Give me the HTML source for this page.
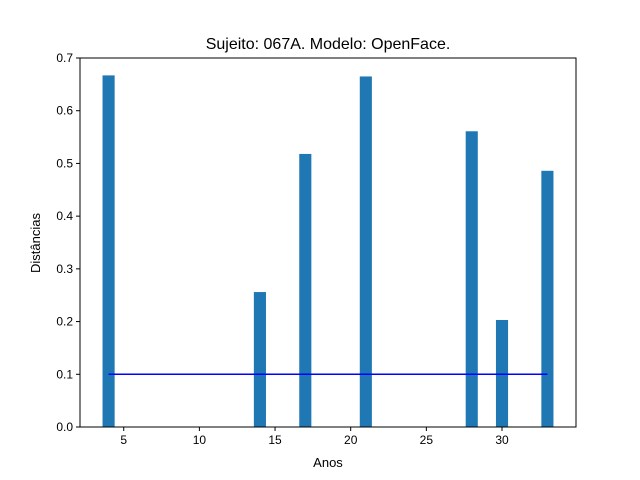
<!DOCTYPE html>
<html><head><meta charset="utf-8"><style>body{margin:0;background:#fff}svg{display:block;font-family:"Liberation Sans","DejaVu Sans",sans-serif}</style></head>
<body>
<svg id="chart" width="640" height="480">
<rect width="640" height="480" fill="#fff"/>
<text x="328" y="49" font-size="16" text-anchor="middle">Sujeito: 067A. Modelo: OpenFace.</text>
<text x="328" y="467" font-size="13" text-anchor="middle">Anos</text>
<text x="40" y="243" font-size="13" text-anchor="middle" transform="rotate(-90 40 243)">Distâncias</text>
<g id="bars"></g><g id="lines"></g><g id="ticks"></g>
<rect x="80" y="58" width="496" height="369" fill="none" stroke="#000" stroke-width="1"/>
</svg>
<script>
const years = [4, 14, 17, 21, 28, 30, 33];
const distances = [0.667, 0.256, 0.518, 0.665, 0.561, 0.203, 0.486];
const threshold = 0.1;
const xTicks = [5, 10, 15, 20, 25, 30];
const yTicks = [0, 0.1, 0.2, 0.3, 0.4, 0.5, 0.6, 0.7];
const L=80,R=576,T=58,B=427,xmin=2.11,xmax=34.89,ymax=0.7;
const sx=v=>L+(v-xmin)/(xmax-xmin)*(R-L);
const sy=v=>B-v/ymax*(B-T);
const NS="http://www.w3.org/2000/svg";
function mk(tag,attrs,parent){const e=document.createElementNS(NS,tag);for(const k in attrs)e.setAttribute(k,attrs[k]);parent.appendChild(e);return e;}
const gb=document.getElementById('bars');
years.forEach((y,i)=>{const x0=sx(y-0.4),x1=sx(y+0.4);
const r=mk('rect',{x:x0,y:sy(distances[i]),width:x1-x0,height:B-sy(distances[i]),fill:'#1f77b4'},gb);

});
const gl=document.getElementById('lines');
const ln=mk('line',{x1:sx(years[0]),x2:sx(years[years.length-1]),y1:sy(threshold),y2:sy(threshold),stroke:'#0000ff','stroke-width':1.5},gl);


const gt=document.getElementById('ticks');
xTicks.forEach(v=>{const x=sx(v);mk('line',{x1:x,x2:x,y1:B,y2:B+4,stroke:'#000'},gt);
const t=mk('text',{x:x,y:B+17,'font-size':12,'text-anchor':'middle'},gt);t.textContent=v;

});
yTicks.forEach(v=>{const y=sy(v);mk('line',{x1:L-4,x2:L,y1:y,y2:y,stroke:'#000'},gt);
const t=mk('text',{x:L-7,y:y+4,'font-size':12,'text-anchor':'end'},gt);t.textContent=v.toFixed(1);

});
</script>
</body></html>
